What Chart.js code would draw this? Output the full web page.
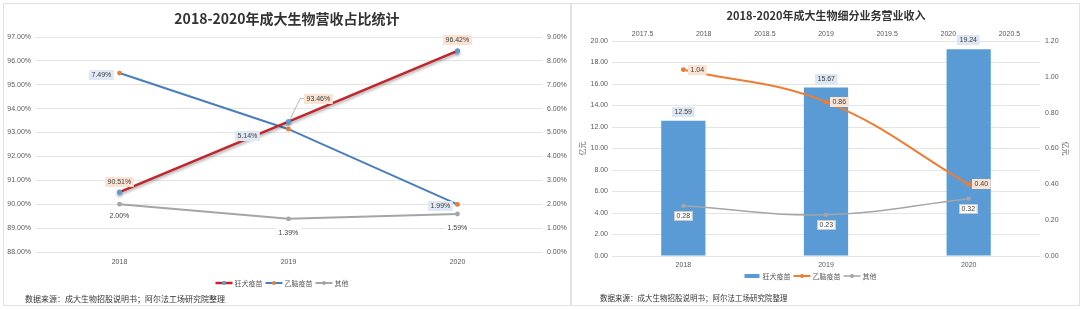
<!DOCTYPE html>
<html>
<head>
<meta charset="utf-8">
<script src="https://cdn.jsdelivr.net/npm/chart.js@4.4.0/dist/chart.umd.min.js"></script>
<style>
body { margin:0; background:#fff; width:1080px; height:309px; overflow:hidden; position:relative; font-family:"Noto Sans CJK SC", sans-serif; }
.panel { position:absolute; border:1px solid #e2e2e2; box-sizing:border-box; }
#p1 { left:3px; top:3px; width:568px; height:303px; }
#p2 { left:571px; top:3px; width:509px; height:303px; }
canvas { position:absolute; top:0; }
.title { position:absolute; text-align:center; font-weight:bold; color:#333; white-space:nowrap; }
.src { position:absolute; color:#333; white-space:nowrap; }
</style>
</head>
<body>
<div class="panel" id="p1"></div>
<div class="panel" id="p2"></div>
<canvas id="c1" width="570" height="309" style="left:0"></canvas>
<canvas id="c2" width="508" height="309" style="left:572px"></canvas>
<div class="title" style="left:0;width:574px;top:8px;font-size:14px;line-height:20px">2018-2020年成大生物营收占比统计</div>
<div class="title" style="left:572px;width:508px;top:8px;font-size:11px;line-height:14px">2018-2020年成大生物细分业务营业收入</div>
<div class="src" style="left:25px;top:294px;font-size:8px;line-height:10px">数据来源：成大生物招股说明书；阿尔法工场研究院整理</div>
<div class="src" style="left:600px;top:293px;font-size:7.5px;line-height:10px">数据来源：成大生物招股说明书；阿尔法工场研究院整理</div>
<script>
// 营收占比（%）
var years = ['2018', '2019', '2020'];
var shareRabies = [90.51, 93.46, 96.42];   // 左轴
var shareJE = [7.49, 5.14, 1.99];          // 右轴
var shareOther = [2.00, 1.39, 1.59];       // 右轴
var shareLeftRange = [88, 97];
var shareRightRange = [0, 9];

// 细分业务营业收入（亿元）
var revRabies = [12.59, 15.67, 19.24];
var revJE = [1.04, 0.86, 0.40];
var revOther = [0.28, 0.23, 0.32];
var revLeftRange = [0, 20];
var revRightRange = [0, 1.2];
var revTopRange = [2017.5, 2020.5];   // 顶部次坐标轴刻度

var names = ['狂犬疫苗', '乙脑疫苗', '其他'];

var RED = '#c0262d', BLUE = '#4a7ebb', ORANGE = '#ed7d31', GREY = '#a5a5a5', BAR = '#5b9bd5';
var tickFont = { family: '"Liberation Sans", Arial, sans-serif', size: 7 };
var tickColor = '#595959';
var gridColor = '#e4e4e4';

function labelBox(ctx, txt, cx, cy, fill, stroke) {
  ctx.font = '7px "Liberation Sans", Arial, sans-serif';
  var w = ctx.measureText(txt).width + 5, h = 10;
  var l = Math.round(cx - w / 2), t = Math.round(cy - h / 2);
  if (fill) { ctx.fillStyle = fill; ctx.fillRect(l, t, w, h); }
  if (stroke) { ctx.strokeStyle = stroke; ctx.lineWidth = 1; ctx.strokeRect(l + 0.5, t + 0.5, w - 1, h - 1); }
  ctx.fillStyle = '#404040';
  ctx.textAlign = 'center';
  ctx.textBaseline = 'middle';
  ctx.fillText(txt, l + w / 2, t + h / 2 + 0.5);
  return w;
}

// 数据标签
var valueLabels = {
  id: 'valueLabels',
  afterDatasetsDraw: function(chart, args, opts) {
    var ctx = chart.ctx;
    ctx.save();
    opts.items.forEach(function(it) {
      var meta = chart.getDatasetMeta(it.ds);
      var data = chart.data.datasets[it.ds].data;
      meta.data.forEach(function(el, i) {
        var txt = data[i].toFixed(2) + (it.suffix || '');
        var cx = el.x + it.off[i][0], cy = el.y + it.off[i][1];
        ctx.font = '7px "Liberation Sans", Arial, sans-serif';
        var w = ctx.measureText(txt).width + 5;
        var lead = it.leader ? it.leader[i] : null;
        if (lead) {
          ctx.strokeStyle = '#a6a6a6';
          ctx.lineWidth = 0.8;
          ctx.beginPath();
          if (lead === 'elbow') {
            ctx.moveTo(el.x + 2, el.y - 3);
            ctx.lineTo(cx - w / 2 - 4, cy);
            ctx.lineTo(cx - w / 2, cy);
          } else {
            ctx.moveTo(cx + w / 2 + 1, cy - 2);
            ctx.lineTo(cx + w / 2 + 3, cy);
          }
          ctx.stroke();
        }
        labelBox(ctx, txt, cx, cy, it.fill, it.stroke);
      });
    });
    ctx.restore();
  }
};

// 图例
var lineLegend = {
  id: 'lineLegend',
  afterDraw: function(chart, args, opts) {
    var ctx = chart.ctx;
    ctx.save();
    ctx.font = '7px "Noto Sans CJK SC", sans-serif';
    var sw = 17, gap = 2, sp = 3;
    var sets = chart.data.datasets;
    var total = 0;
    sets.forEach(function(d) { total += sw + gap + ctx.measureText(d.label).width + sp; });
    total -= sp;
    var x = opts.cx - total / 2, y = opts.y;
    sets.forEach(function(d) {
      var isBar = (d.type || chart.config.type) === 'bar';
      if (isBar) {
        ctx.fillStyle = d.backgroundColor;
        ctx.fillRect(x + 1, y - 2, sw - 2, 4);
      } else {
        ctx.strokeStyle = d.borderColor;
        ctx.lineWidth = d.legendWidth || 2;
        ctx.beginPath(); ctx.moveTo(x, y); ctx.lineTo(x + sw, y); ctx.stroke();
        ctx.fillStyle = d.pointBackgroundColor;
        ctx.beginPath(); ctx.arc(x + sw / 2, y, 2, 0, Math.PI * 2); ctx.fill();
      }
      ctx.fillStyle = '#595959';
      ctx.textAlign = 'left';
      ctx.textBaseline = 'middle';
      ctx.fillText(d.label, x + sw + gap, y + 0.5);
      x += sw + gap + ctx.measureText(d.label).width + sp;
    });
    ctx.restore();
  }
};

// 红线阴影
var lineShadow = {
  id: 'lineShadow',
  beforeDatasetDraw: function(chart, args) {
    if (args.index !== 0) return;
    var ctx = chart.ctx;
    ctx.save();
    ctx.shadowColor = 'rgba(0,0,0,0.35)';
    ctx.shadowBlur = 3;
    ctx.shadowOffsetY = 2;
  },
  afterDatasetDraw: function(chart, args) {
    if (args.index !== 0) return;
    chart.ctx.restore();
  }
};

function pct(v) { return Number(v).toFixed(2) + '%'; }
function fix2(v) { return Number(v).toFixed(2); }

new Chart(document.getElementById('c1'), {
  type: 'line',
  data: {
    labels: years,
    datasets: [
      { label: names[0], data: shareRabies, yAxisID: 'y', borderColor: RED, borderWidth: 2.5, legendWidth: 2.5,
        pointBackgroundColor: BAR, pointBorderWidth: 0, pointRadius: 2.6, tension: 0 },
      { label: names[1], data: shareJE, yAxisID: 'y1', borderColor: BLUE, borderWidth: 2,
        pointBackgroundColor: ORANGE, pointBorderWidth: 0, pointRadius: 2.4, tension: 0 },
      { label: names[2], data: shareOther, yAxisID: 'y1', borderColor: GREY, borderWidth: 2,
        pointBackgroundColor: GREY, pointBorderWidth: 0, pointRadius: 2.4, tension: 0 }
    ]
  },
  options: {
    responsive: false,
    animation: false,
    devicePixelRatio: 1,
    layout: { padding: { top: 37, left: 0, right: 0, bottom: 0 } },
    plugins: {
      legend: { display: false },
      tooltip: { enabled: false },
      lineLegend: { cx: 282, y: 283 },
      valueLabels: {
        items: [
          { ds: 0, suffix: '%', fill: '#fbe3d3', off: [[0, -10], [30, -23], [0, -11]], leader: [null, 'elbow', null] },
          { ds: 1, suffix: '%', fill: '#dfe8f4', off: [[-18, 2], [-41, 7], [-17, 2]], leader: [null, null, 'tick'] },
          { ds: 2, suffix: '%', fill: 'rgba(255,255,255,0.9)', off: [[0, 12], [0, 14], [0, 14]] }
        ]
      }
    },
    scales: {
      x: {
        offset: true,
        grid: { display: false, drawTicks: false },
        border: { display: false },
        ticks: { font: tickFont, color: tickColor, padding: 6 },
        afterFit: function(s) { s.height = 57; }
      },
      y: {
        position: 'left',
        min: shareLeftRange[0], max: shareLeftRange[1],
        ticks: { stepSize: 1, font: tickFont, color: tickColor, padding: 4, callback: pct },
        grid: { color: gridColor, drawTicks: false },
        border: { display: false },
        afterFit: function(s) { s.width = 35; }
      },
      y1: {
        position: 'right',
        min: shareRightRange[0], max: shareRightRange[1],
        ticks: { stepSize: 1, font: tickFont, color: tickColor, padding: 5, callback: pct },
        grid: { display: false, drawTicks: false },
        border: { display: false },
        afterFit: function(s) { s.width = 28; }
      }
    }
  },
  plugins: [lineShadow, valueLabels, lineLegend]
});

new Chart(document.getElementById('c2'), {
  type: 'bar',
  data: {
    labels: years,
    datasets: [
      { label: names[0], data: revRabies, yAxisID: 'y', backgroundColor: BAR,
        categoryPercentage: 1, barPercentage: 0.31, grouped: false, order: 2 },
      { type: 'line', label: names[1], data: revJE, yAxisID: 'y2',
        borderColor: ORANGE, borderWidth: 2, pointBackgroundColor: ORANGE, pointBorderWidth: 0,
        pointRadius: 2.4, tension: 0.4, order: 0 },
      { type: 'line', label: names[2], data: revOther, yAxisID: 'y2',
        borderColor: GREY, borderWidth: 1.5, legendWidth: 1.5, pointBackgroundColor: GREY, pointBorderWidth: 0,
        pointRadius: 2.2, tension: 0.4, order: 1 }
    ]
  },
  options: {
    responsive: false,
    animation: false,
    devicePixelRatio: 1,
    layout: { padding: { top: 27, left: 0, right: 0, bottom: 0 } },
    plugins: {
      legend: { display: false },
      tooltip: { enabled: false },
      lineLegend: { cx: 238, y: 276 },
      valueLabels: {
        items: [
          { ds: 0, fill: '#dde7f3', off: [[0, -9], [0, -9], [0, -9]] },
          { ds: 1, fill: '#fbe3d3', off: [[14, 0], [13, 0], [13, 0]] },
          { ds: 2, fill: '#ffffff', stroke: '#c8c8c8', off: [[0, 10], [0, 10], [0, 10]] }
        ]
      }
    },
    scales: {
      x: {
        position: 'bottom',
        offset: true,
        grid: { display: false, drawTicks: false },
        border: { display: false },
        ticks: { font: tickFont, color: tickColor, padding: 5 },
        afterFit: function(s) { s.height = 53; }
      },
      x2: {
        type: 'linear',
        position: 'top',
        min: revTopRange[0], max: revTopRange[1],
        grid: { display: false, drawTicks: false },
        border: { display: false },
        ticks: { stepSize: 0.5, font: tickFont, color: tickColor, padding: 3,
          callback: function(v) { return String(v); } },
        afterFit: function(s) { s.height = 14; }
      },
      y: {
        position: 'left',
        min: revLeftRange[0], max: revLeftRange[1],
        ticks: { stepSize: 2, font: tickFont, color: tickColor, padding: 4, callback: fix2 },
        grid: { color: gridColor, drawTicks: false },
        border: { display: false },
        title: { display: true, text: '亿元', color: tickColor, font: { family: '"Noto Sans CJK SC"', size: 7 }, padding: { top: 6, bottom: 0 } },
        afterFit: function(s) { s.width = 40; }
      },
      y2: {
        position: 'right',
        min: revRightRange[0], max: revRightRange[1],
        ticks: { stepSize: 0.2, font: tickFont, color: tickColor, padding: 5, callback: fix2 },
        grid: { display: false, drawTicks: false },
        border: { display: false },
        title: { display: true, text: '亿元', color: tickColor, font: { family: '"Noto Sans CJK SC"', size: 7 }, padding: { top: 10, bottom: 0 } },
        afterFit: function(s) { s.width = 40; }
      }
    }
  },
  plugins: [valueLabels, lineLegend]
});
</script>
</body>
</html>
